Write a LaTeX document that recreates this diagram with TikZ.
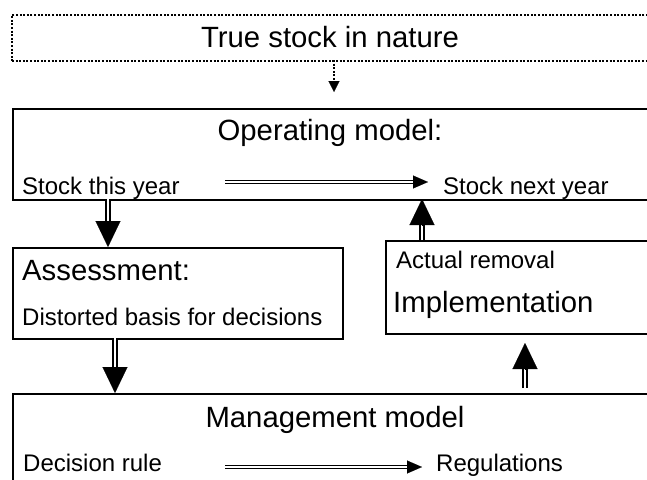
\documentclass[tikz,border=0pt]{standalone}
\usepackage{fontspec}
\setmainfont{Liberation Sans}
\usetikzlibrary{arrows.meta,calc}
\begin{document}
\begin{tikzpicture}[x=1pt,y=-1pt,
 box/.style={draw, line width=2pt, anchor=north west, inner sep=0pt},
 dotbox/.style={draw, line width=2pt, dash pattern=on 2pt off 1.6pt, anchor=north west, inner sep=0pt},
 head/.style={font=\fontsize{29.3}{35}\selectfont, inner sep=0pt, anchor=base},
 big/.style={font=\fontsize{29.3}{35}\selectfont, inner sep=0pt, anchor=base west},
 small/.style={font=\fontsize{24}{29}\selectfont, inner sep=0pt, anchor=base west},
 vshaft/.style={double, line width=1.8pt, double distance=2pt},
 hshaft/.style={double, line width=1pt, double distance=1.8pt},
 dotshaft/.style={line width=2pt, dash pattern=on 2pt off 1.6pt},
 bigtip/.style={-{Triangle[length=26pt,width=25pt]}, line width=0.1pt},
 smalltip/.style={-{Triangle[length=15pt,width=13pt]}, line width=0.1pt},
 dottip/.style={-{Triangle[length=11pt,width=11pt]}, line width=0.1pt},
]
\useasboundingbox (0,0) rectangle (647,479);
\clip (0,0) rectangle (647,479);

% boxes
\node[dotbox, minimum width=700pt, minimum height=46pt] (nature) at (11,14) {};
\node[box, minimum width=700pt, minimum height=91pt] (op) at (12,108) {};
\node[box, minimum width=330pt, minimum height=91pt] (as) at (12,247) {};
\node[box, minimum width=400pt, minimum height=93pt] (im) at (385,240) {};
\node[box, minimum width=700pt, minimum height=150pt] (mg) at (12,393) {};

% texts
\node[head] (tNature) at (330,47) {True stock in nature};
\node[head] (tOp) at (330,140) {Operating model:};
\node[small] (tThis) at (22,194) {Stock this year};
\node[small] (tNext) at (443,194) {Stock next year};
\node[big] (tAs) at (22,280) {Assessment:};
\node[small] (tDist) at (22,325) {Distorted basis for decisions};
\node[small] (tAct) at (396,268) {Actual removal};
\node[big] (tImp) at (393,312) {Implementation};
\node[head] (tMg) at (335,427) {Management model};
\node[small] (tRule) at (23,471) {Decision rule};
\node[small] (tReg) at (436,471) {Regulations};

% connector points
\coordinate (tsA) at (334,60);
\coordinate (tsM) at (334,81);
\coordinate (tsB) at (334,92);
\coordinate (d1a) at (108,199);
\coordinate (d1m) at (108,221);
\coordinate (d1b) at (108,247);
\coordinate (d2a) at (115,338);
\coordinate (d2m) at (115,367);
\coordinate (d2b) at (115,393);
\coordinate (u1a) at (422,240);
\coordinate (u1m) at (422,225);
\coordinate (u1b) at (422,199);
\coordinate (u2a) at (525,388);
\coordinate (u2m) at (525,369);
\coordinate (u2b) at (525,343);
\coordinate (h1a) at (225,182);
\coordinate (h1m) at (413,182);
\coordinate (h1b) at (428,182);
\coordinate (h2a) at (225,467);
\coordinate (h2m) at (407,467);
\coordinate (h2b) at (422,467);

% connectors
\draw[dotshaft] (tsA) -- (tsM);
\draw[dottip] (tsM) -- (tsB);
\draw[vshaft] (d1a) -- (d1m);
\draw[bigtip] (d1m) -- (d1b);
\draw[vshaft] (d2a) -- (d2m);
\draw[bigtip] (d2m) -- (d2b);
\draw[vshaft] (u1a) -- (u1m);
\draw[bigtip] (u1m) -- (u1b);
\draw[vshaft] (u2a) -- (u2m);
\draw[bigtip] (u2m) -- (u2b);
\draw[hshaft] (h1a) -- (h1m);
\draw[smalltip] (h1m) -- (h1b);
\draw[hshaft] (h2a) -- (h2m);
\draw[smalltip] (h2m) -- (h2b);
\end{tikzpicture}
\end{document}
